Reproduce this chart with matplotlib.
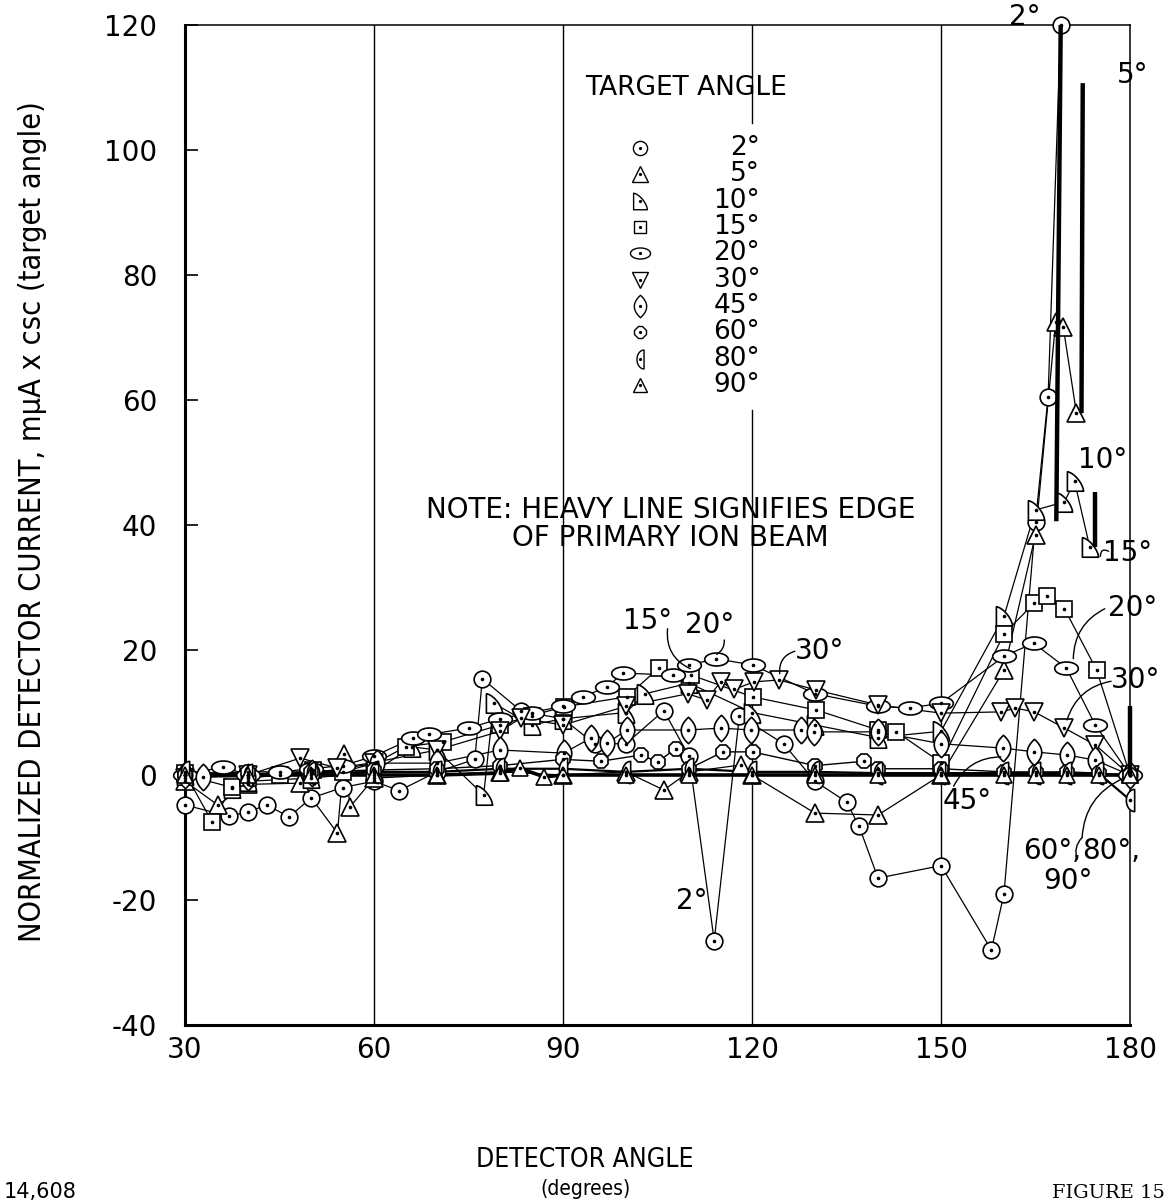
import numpy as np
import matplotlib
matplotlib.use("Agg")
import matplotlib.pyplot as plt
from matplotlib.path import Path

# ---------------------------------------------------------------------------
# Normalized detector current vs. detector angle, one series per target angle
# ---------------------------------------------------------------------------
TARGET_LABELS = ["2°", "5°", "10°", "15°", "20°", "30°", "45°", "60°", "80°", "90°"]

T02_X = [30, 37, 40, 43, 46.5, 50, 55, 60, 64, 70, 76, 77.2, 83.4, 90, 95, 100, 106, 110,
         114, 118, 125, 130, 135, 137, 140, 150, 158, 160, 165, 167, 169]
T02_Y = [-4.8, -6.6, -5.9, -4.8, -6.7, -3.7, -2, -1, -2.5, 0.5, 2.5, 15.4, 10.2, 9, 5, 5, 10.3, 3,
         -26.5, 9.5, 5, -1, -4.3, -8.2, -16.5, -14.5, -28, -19, 40.5, 60.5, 120]

T05_X = [30, 35.2, 40, 48.3, 54.2, 55.3, 56.2, 60, 70, 80, 90, 100, 106, 110, 118.2, 120,
         130, 140, 150, 160, 165, 168.2, 169.4, 171.5]
T05_Y = [-1, -4.8, -1.5, -1.3, -9.3, 3.4, -5.1, -0.5, 0, 0.5, 0, 0.5, -2.4, 0.5, 1.6, 0,
         -6.1, -6.4, 0, 16.8, 38.4, 72.5, 71.7, 57.9]

T10_X = [30, 37.5, 40, 50, 60, 66, 70, 77.4, 79, 85, 90, 100, 103, 110, 120, 130, 140, 150,
         160, 165, 169.6, 171.2, 173.6]
T10_Y = [0, -2, -1, -0.5, 0.5, 4.5, 4, -3.2, 11.5, 8, 9, 10, 13, 14.7, 10, 8, 6, 7,
         25.4, 42.4, 43.7, 47, 36.5]

T15_X = [30, 34.3, 37.5, 40, 45, 50.3, 55, 60.2, 65, 70.9, 80, 85, 90.1, 100.1, 105.2, 110.3,
         120.1, 130.2, 140, 142.9, 150, 160, 164.8, 166.9, 169.6, 174.7, 180]
T15_Y = [0.3, -7.5, -1.9, -0.5, 0, 0.8, 0.5, 1.9, 4.5, 5.3, 8, 9.5, 10.9, 12.5, 17.1, 16,
         12.5, 10.4, 7.2, 6.9, 2, 22.6, 27.5, 28.6, 26.6, 16.8, 0]

T20_X = [30, 36, 40, 45, 50, 55, 60, 66.2, 68.8, 75, 80, 85, 90, 93.1, 97, 99.5, 107.4, 110,
         114.3, 120.1, 130, 140, 145, 150, 160, 164.7, 169.9, 174.5, 180]
T20_Y = [0, 1.3, 0, 0.5, 1, 1.5, 3, 5.9, 6.5, 7.5, 9, 10, 11, 12.5, 14.1, 16.3, 16, 17.6,
         18.6, 17.6, 13, 11, 10.7, 11.5, 19, 21.1, 17.1, 8, 0]

T30_X = [30, 40, 48.3, 54.2, 60, 70, 80, 83.3, 90, 100, 109.8, 112.8, 115, 117.2, 120.3,
         124.3, 130.2, 140, 150, 159.6, 161.8, 164.8, 169.6, 174.5, 180]
T30_Y = [-0.5, 0, 2.7, 1.1, 2, 4, 7, 9.1, 8, 11, 13, 12, 14.9, 13.7, 14.9,
         15.2, 13.6, 11.2, 9.9, 10.1, 10.7, 10.1, 7.5, 4.8, 0]

T45_X = [30, 32.9, 40, 50.2, 60.5, 70, 80, 90.1, 94.4, 97, 100.1, 109.8, 115, 119.9, 127.8,
         129.8, 140, 150, 159.9, 164.8, 170, 174.4, 180]
T45_Y = [0, -0.3, -0.3, 0.3, 1.9, 1.9, 4, 3.5, 5.9, 5.1, 7.2, 7.2, 7.5, 7.2, 7.2,
         6.9, 6.9, 5, 4.3, 3.7, 3.2, 2.4, 0]

T60_X = [30, 40, 50, 60, 70, 80, 90, 96, 102.4, 105, 107.9, 110, 115.4, 120.1, 130, 137.8,
         140, 150, 160, 165, 170, 175, 180]
T60_Y = [0, 0.5, 0.5, 0.8, 1, 1.5, 2.5, 2.2, 3.2, 2.1, 4.2, 1, 3.7, 3.7, 1.5, 2.2,
         1, 1, 0.5, 0.5, 0.5, 0.3, 0]

T80_X = [30, 40, 50, 60, 70, 80, 90, 100, 110, 120, 130, 140, 150, 160, 165, 170, 175, 180]
T80_Y = [0.5, 0, 0.3, 0.5, 0.5, 1, 1, 0.5, 1, 0.5, 0.5, 0.3, 0.3, 0.3, 0.3, 0.3, 0.3, -4]

T90_X = [30, 40, 50, 60, 70, 80, 83.1, 87, 90, 100, 110, 120, 130, 140, 150, 160, 165, 170, 175, 180]
T90_Y = [0, 0, 0, 0, 0, 0.3, 1.1, -0.3, 0, 0, 0, 0, 0, 0, 0, 0, 0, 0, 0, 0]

# heavy lines: edge of the primary ion beam
BEAM_02_X, BEAM_02_Y = [169, 168.3], [120, 40.6]
BEAM_05_X, BEAM_05_Y = [172.5, 172.3], [110.7, 57.9]
BEAM_10_X, BEAM_10_Y = [174.4, 174.4], [45.3, 36.5]
BEAM_HI_X, BEAM_HI_Y = [180, 180], [0, 11]

X_TICKS = [30, 60, 90, 120, 150, 180]
Y_TICKS = [-40, -20, 0, 20, 40, 60, 80, 100, 120]

MAIN = "DejaVu Sans"
NARROW = dict(family="DejaVu Sans", stretch="condensed")


# ---------------------------------------------------------------------------
# custom marker shapes
# ---------------------------------------------------------------------------
def closed_path(pts):
    pts = np.asarray(pts, dtype=float)
    verts = np.vstack([pts, pts[:1]])
    codes = [Path.MOVETO] + [Path.LINETO] * (len(pts) - 1) + [Path.CLOSEPOLY]
    return Path(verts, codes)


_s = np.linspace(1, -1, 31)
LENS = closed_path(np.vstack([np.c_[0.55 * (1 - _s ** 2), _s],
                              np.c_[-0.55 * (1 - _s[::-1] ** 2), _s[::-1]]]))
_a = np.linspace(0, 2 * np.pi, 48, endpoint=False)
OVAL = closed_path(np.c_[np.cos(_a), 0.55 * np.sin(_a)])
_q = np.linspace(np.pi / 2, 0, 20)
DSHAPE = closed_path(np.vstack([np.c_[-0.625 + 1.25 * np.cos(_q) ** 1.3,
                                      -0.75 + 1.5 * np.sin(_q) ** 1.3],
                                [[-0.625, -0.75]]]))
_h = np.linspace(np.pi / 2, 3 * np.pi / 2, 25)
HALF = closed_path(np.c_[0.375 + 0.75 * np.cos(_h), np.sin(_h)])

STYLES = [
    dict(marker="o", ms=12),
    dict(marker="^", ms=13),
    dict(marker=DSHAPE, ms=14),
    dict(marker="s", ms=11),
    dict(marker=OVAL, ms=17),
    dict(marker="v", ms=13),
    dict(marker=LENS, ms=19),
    dict(marker="8", ms=11),
    dict(marker=HALF, ms=16),
    dict(marker="^", ms=12),
]
SERIES = [(T02_X, T02_Y), (T05_X, T05_Y), (T10_X, T10_Y), (T15_X, T15_Y), (T20_X, T20_Y),
          (T30_X, T30_Y), (T45_X, T45_Y), (T60_X, T60_Y), (T80_X, T80_Y), (T90_X, T90_Y)]
LINE_W = [0.9, 0.9, 0.9, 0.9, 0.9, 0.9, 0.9, 1.0, 1.6, 2.6]

# ---------------------------------------------------------------------------
fig = plt.figure(figsize=(11.71, 12.04), dpi=100)
ax = fig.add_axes([185 / 1171, 1 - 1025 / 1204, 945 / 1171, 1000 / 1204])
ax.set_xlim(30, 180)
ax.set_ylim(-40, 120)

# vertical rules (the 120° rule is interrupted behind the key)
for gx in (60, 90, 150):
    ax.axvline(gx, color="k", lw=1.0, zorder=1)
ax.axvline(120, ymin=0, ymax=(58.4 + 40) / 160, color="k", lw=1.0, zorder=1)
ax.axvline(120, ymin=(104.3 + 40) / 160, ymax=1, color="k", lw=1.0, zorder=1)

for (xs, ys), lw in zip(SERIES, LINE_W):
    ax.plot(xs, ys, "-", color="k", lw=lw, zorder=2, clip_on=False)
for (xs, ys), st in zip(SERIES, STYLES):
    ax.plot(xs, ys, ls="none", mfc="white", mec="k", mew=1.2, zorder=3, clip_on=False, **st)
    ax.plot(xs, ys, ls="none", marker="o", ms=1.6, color="k", zorder=4, clip_on=False)

for bx, by in [(BEAM_02_X, BEAM_02_Y), (BEAM_05_X, BEAM_05_Y),
               (BEAM_10_X, BEAM_10_Y), (BEAM_HI_X, BEAM_HI_Y)]:
    ax.plot(bx, by, "-", color="k", lw=3.2, solid_capstyle="butt", zorder=5, clip_on=False)

# axes frame and ticks
for side in ("left", "bottom"):
    ax.spines[side].set_linewidth(2.2)
for side in ("top", "right"):
    ax.spines[side].set_linewidth(1.1)
ax.set_xticks(X_TICKS)
ax.set_xticklabels([str(v) for v in X_TICKS])
ax.set_yticks(Y_TICKS)
ax.set_yticklabels([str(v) for v in Y_TICKS])
ax.tick_params(axis="y", direction="in", length=9, width=1.2, pad=20, labelsize=20)
ax.tick_params(axis="x", length=0, pad=8, labelsize=20)
for lab in ax.get_xticklabels() + ax.get_yticklabels():
    lab.set_fontfamily(MAIN)

# key
ax.text(109.5, 109.9, "TARGET ANGLE", ha="center", va="center", fontsize=19, family=MAIN)
for i, (lab, st) in enumerate(zip(TARGET_LABELS, STYLES)):
    yy = 100.3 - 4.21 * i
    kst = dict(st)
    kst["ms"] = st["ms"] * 0.85
    ax.plot([102.3], [yy], ls="none", mfc="white", mec="k", mew=1.0, zorder=6, **kst)
    ax.plot([102.3], [yy], ls="none", marker="o", ms=1.3, color="k", zorder=7)
    ax.text(121.3, yy, lab, ha="right", va="center", fontsize=19, family=MAIN)

ax.text(107.1, 40.2, "NOTE: HEAVY LINE SIGNIFIES EDGE\nOF PRIMARY ION BEAM", ha="center",
        va="center", fontsize=20, family=MAIN, linespacing=1.0)

# curve labels
TXT = dict(fontsize=20, family=MAIN, ha="center", va="center", zorder=8)
ax.text(163.3, 121.3, "2°", **TXT)
ax.text(180.4, 112.0, "5°", **TXT)
ax.text(175.6, 50.4, "10°", **TXT)
ax.text(179.6, 35.5, "15°", **TXT)
ax.text(180.4, 26.7, "20°", **TXT)
ax.text(180.9, 15.2, "30°", **TXT)
ax.text(154.2, -4.2, "45°", **TXT)
ax.text(167.6, -12.2, "60°,", **TXT)
ax.text(177.0, -12.2, "80°,", **TXT)
ax.text(170.2, -17.0, "90°", **TXT)
ax.text(103.4, 24.6, "15°", **TXT)
ax.text(113.2, 24.0, "20°", **TXT)
ax.text(130.8, 19.8, "30°", **TXT)
ax.text(110.4, -20.2, "2°", **TXT)

LEAD = dict(arrowstyle="-", color="k", lw=1.0, shrinkA=0, shrinkB=0)
for (x0, y0), (x1, y1), rad in [
    ((106.6, 23.4), (110.2, 17.0), 0.35),
    ((115.6, 21.6), (114.4, 19.3), -0.3),
    ((126.8, 19.8), (124.4, 16.2), 0.4),
    ((176.6, 35.8), (175.3, 35.0), 0.8),
    ((176.0, 26.6), (171.0, 18.6), 0.3),
    ((177.0, 15.0), (170.0, 8.8), 0.3),
    ((152.0, -1.8), (159.5, 2.9), -0.3),
    ((172.4, -10.0), (178.8, -0.6), -0.3),
    ((172.4, -10.0), (171.6, -13.5), 0.3),
]:
    ax.annotate("", xy=(x1, y1), xytext=(x0, y0),
                arrowprops=dict(connectionstyle=f"arc3,rad={rad}", **LEAD), zorder=8)

# axis titles
fig.text(33 / 1171, 1 - 522 / 1204, "NORMALIZED DETECTOR CURRENT, mμA x csc (target angle)",
         rotation=90, ha="center", va="center", fontsize=22, **NARROW)
fig.text(585 / 1171, 1 - 1160 / 1204, "DETECTOR ANGLE", ha="center", va="center",
         fontsize=19, **NARROW)
fig.text(585 / 1171, 1 - 1189 / 1204, "(degrees)", ha="center", va="center",
         fontsize=15, **NARROW)
fig.text(4 / 1171, 1 - 1202 / 1204, "14,608", ha="left", va="bottom", fontsize=15, family=MAIN)
fig.text(1165 / 1171, 1 - 1202 / 1204, "FIGURE 15", ha="right", va="bottom", fontsize=14,
         family="DejaVu Serif")

fig.savefig("out.png", dpi=100, facecolor="white")
